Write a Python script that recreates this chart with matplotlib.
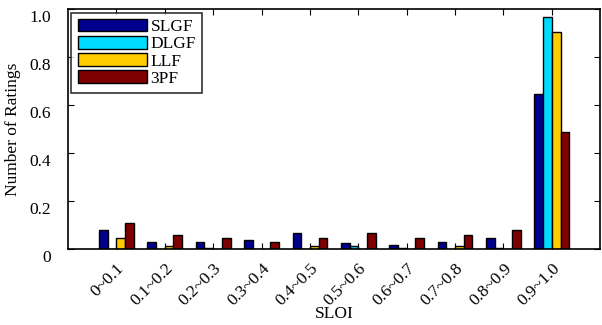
import numpy as np
import matplotlib

matplotlib.use("Agg")
import matplotlib.pyplot as plt
import matplotlib.transforms as mtransforms

plt.rcParams["font.family"] = ["Liberation Serif", "DejaVu Serif"]

# SLOI bins and the share of ratings per method
categories = ["0~0.1", "0.1~0.2", "0.2~0.3", "0.3~0.4", "0.4~0.5",
              "0.5~0.6", "0.6~0.7", "0.7~0.8", "0.8~0.9", "0.9~1.0"]
slgf = [0.079, 0.030, 0.030, 0.037, 0.068, 0.024, 0.015, 0.030, 0.045, 0.645]
dlgf = [0.0, 0.0, 0.005, 0.0, 0.0, 0.013, 0.005, 0.0, 0.005, 0.965]
llf = [0.046, 0.012, 0.0, 0.0, 0.012, 0.0, 0.0, 0.012, 0.0, 0.905]
pf3 = [0.110, 0.058, 0.045, 0.030, 0.045, 0.068, 0.045, 0.058, 0.079, 0.489]

series = [("SLGF", slgf, "#00008f"), ("DLGF", dlgf, "#00dcff"),
          ("LLF", llf, "#ffcc00"), ("3PF", pf3, "#7f0000")]

fs = 12.5

fig = plt.figure(figsize=(6.02, 3.25), dpi=100)
ax = fig.add_axes([0.113, 0.234, 0.884, 0.738])

x = np.arange(1, len(categories) + 1)
width = 0.18
for i, (name, vals, color) in enumerate(series):
    ax.bar(x + (i - 1.5) * width, vals, width, color=color,
           edgecolor="black", linewidth=1.0, label=name)

ax.set_xlim(0, 11)
ax.set_ylim(0, 1.0)
ax.set_xticks(x)
ax.set_xticklabels(categories, rotation=45, ha="right", rotation_mode="anchor")
ax.set_yticks([0, 0.2, 0.4, 0.6, 0.8, 1.0])
ax.set_yticklabels(["0", "0.2", "0.4", "0.6", "0.8", "1.0"])
ax.tick_params(direction="in", top=True, right=True, labelsize=fs, length=4)
ax.tick_params(axis="y", pad=12)
ax.tick_params(axis="x", pad=8)
for s in ax.spines.values():
    s.set_linewidth(1.2)

# y labels sit a little below their ticks in the original
offset = mtransforms.ScaledTranslation(0, -5 / 72, fig.dpi_scale_trans)
for lbl in ax.get_yticklabels():
    lbl.set_transform(lbl.get_transform() + offset)

ax.set_xlabel("SLOI", fontsize=fs, labelpad=-2)
ax.set_ylabel("Number of Ratings", fontsize=fs, labelpad=6)

leg = ax.legend(loc="upper left", bbox_to_anchor=(0.0, 1.0), fancybox=False,
                edgecolor="black", handlelength=4.0, handleheight=0.75,
                handletextpad=0.2, labelspacing=0.05, fontsize=fs,
                borderaxespad=0.2, borderpad=0.35)
leg.get_frame().set_linewidth(1.2)

plt.savefig("out.png", dpi=100)
